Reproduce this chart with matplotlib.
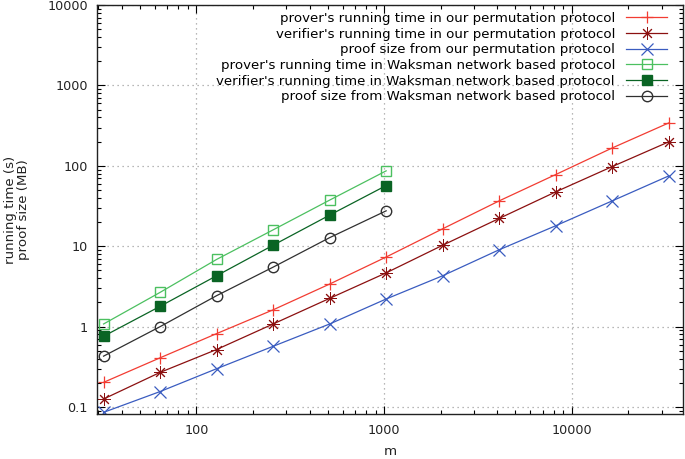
import numpy as np
import matplotlib.pyplot as plt
from matplotlib.ticker import LogLocator, NullFormatter, FixedLocator, FixedFormatter

# m values
m_ours = [32, 64, 128, 256, 512, 1024, 2048, 4096, 8192, 16384, 32768]
m_waks = [32, 64, 128, 256, 512, 1024]

# our permutation protocol
prover_ours = [0.203, 0.41, 0.82, 1.62, 3.39, 7.35, 16.5, 36.7, 78, 167, 342]
verifier_ours = [0.126, 0.27, 0.52, 1.08, 2.25, 4.67, 10.3, 22.2, 47.5, 98, 199]
proof_ours = [0.086, 0.156, 0.30, 0.57, 1.08, 2.21, 4.3, 9.05, 18, 36.7, 75]

# Waksman network based protocol
prover_waks = [1.08, 2.67, 6.86, 16.0, 37.5, 86.7]
verifier_waks = [0.76, 1.79, 4.3, 10.3, 24.4, 56.9]
proof_waks = [0.43, 1.0, 2.43, 5.5, 12.8, 27.6]

labels = [
    "prover's running time in our permutation protocol",
    "verifier's running time in our permutation protocol",
    "proof size from our permutation protocol",
    "prover's running time in Waksman network based protocol",
    "verifier's running time in Waksman network based protocol",
    "proof size from Waksman network based protocol",
]

fig = plt.figure(figsize=(6.85, 4.59), dpi=100)
ax = fig.add_axes([0.1423, 0.098, 0.997 - 0.1423, 0.989 - 0.098])

lw = 0.9
ax.plot(m_ours, prover_ours, color='#f23c32', marker='+', ms=8, mew=0.9, lw=lw, label=labels[0])
ax.plot(m_ours, verifier_ours, color='#8b1010', marker=(8, 2, 0), ms=9, mew=0.7, lw=lw, label=labels[1])
ax.plot(m_ours, proof_ours, color='#3a5cc0', marker='x', ms=8, mew=0.9, lw=lw, label=labels[2])
ax.plot(m_waks, prover_waks, color='#4cc060', marker='s', ms=7.5, mew=1.0, mfc='none', lw=lw, label=labels[3])
ax.plot(m_waks, verifier_waks, color='#0a6424', marker='s', ms=7.5, mew=1.0, lw=lw, label=labels[4])
ax.plot(m_waks, proof_waks, color='#303030', marker='o', ms=7.5, mew=1.0, mfc='none', lw=lw, label=labels[5])

ax.set_xscale('log')
ax.set_yscale('log')
ax.set_xlim(29.7, 39000)
ax.set_ylim(0.082, 10000)

ax.xaxis.set_major_locator(FixedLocator([100, 1000, 10000]))
ax.xaxis.set_major_formatter(FixedFormatter(['100', '1000', '10000']))
ax.xaxis.set_minor_locator(LogLocator(base=10, subs=np.arange(2, 10), numticks=20))
ax.xaxis.set_minor_formatter(NullFormatter())
ax.yaxis.set_major_locator(FixedLocator([0.1, 1, 10, 100, 1000, 10000]))
ax.yaxis.set_major_formatter(FixedFormatter(['0.1', '1', '10', '100', '1000', '10000']))
ax.yaxis.set_minor_locator(LogLocator(base=10, subs=np.arange(2, 10), numticks=20))
ax.yaxis.set_minor_formatter(NullFormatter())

ax.tick_params(which='both', direction='in', top=True, right=True, labelsize=9.2, labelcolor='#222222')
ax.tick_params(which='major', length=6, width=0.8)
ax.tick_params(which='minor', length=3, width=0.8)
ax.tick_params(axis='y', pad=7)
ax.tick_params(axis='x', pad=7)
for s in ax.spines.values():
    s.set_linewidth(1.0)
    s.set_color('#222222')

ax.grid(True, which='major', linestyle=(0, (1, 3)), color='#a0a0a0', lw=0.9)
ax.set_axisbelow(True)

ax.set_xlabel('m', fontsize=9.6, color='#222222', labelpad=6)
ax.set_ylabel('running time (s)\nproof size (MB)', fontsize=9.6, color='#222222',
              labelpad=12, linespacing=1.0)

ax.legend(loc='upper right', markerfirst=False, frameon=False, fontsize=9.6,
          handlelength=3.05, handletextpad=0.85, labelspacing=0.2,
          borderpad=0, borderaxespad=0, bbox_to_anchor=(0.9727, 0.983))

fig.savefig('out.png', dpi=100)
